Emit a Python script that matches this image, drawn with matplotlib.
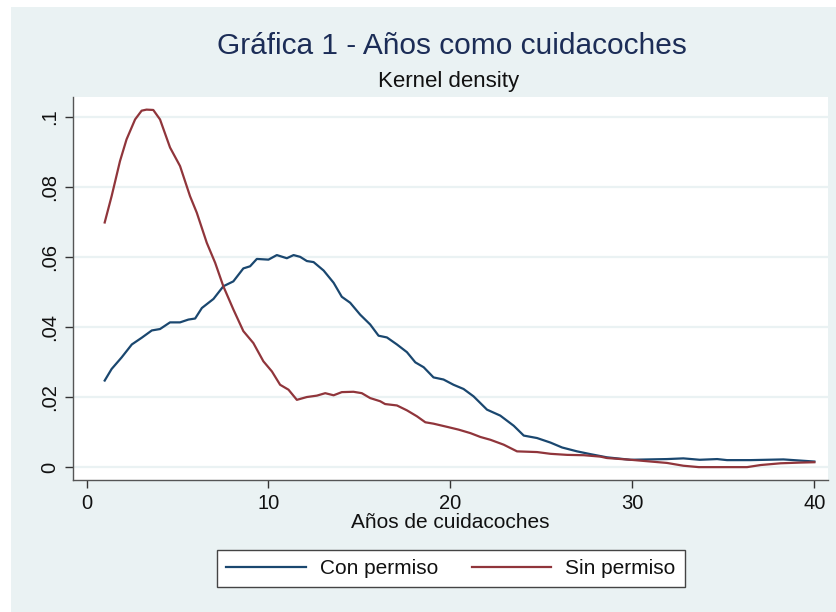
import matplotlib
matplotlib.use("Agg")
import matplotlib.pyplot as plt
from matplotlib.patches import Rectangle

plt.rcParams['font.family'] = ['Liberation Sans', 'DejaVu Sans']

title = "Gráfica 1 - Años como cuidacoches"
subtitle = "Kernel density"
xlabel = "Años de cuidacoches"
legend_labels = ["Con permiso", "Sin permiso"]

x_ticks = [0, 10, 20, 30, 40]
y_ticks = [0, 0.02, 0.04, 0.06, 0.08, 0.1]
y_ticklabels = ["0", ".02", ".04", ".06", ".08", ".1"]

con_x = [1.0, 1.38, 1.93, 2.49, 3.03, 3.59, 4.04, 4.59, 5.14, 5.6, 5.97, 6.34,
         6.98, 7.52, 8.07, 8.62, 8.99, 9.36, 10.0, 10.46, 11.01, 11.38, 11.74,
         12.11, 12.48, 13.03, 13.58, 14.03, 14.49, 15.04, 15.59, 16.05, 16.51,
         17.06, 17.61, 18.07, 18.53, 19.07, 19.62, 20.17, 20.72, 21.27, 22.01,
         22.74, 23.48, 24.03, 24.76, 25.5, 26.14, 26.96, 27.7, 28.6, 29.9, 31.9,
         32.8, 33.7, 34.66, 35.2, 36.5, 38.3, 40.0]
con_y = [0.0248, 0.0281, 0.0314, 0.0351, 0.0370, 0.0391, 0.0395, 0.0414, 0.0414,
         0.0422, 0.0425, 0.0455, 0.0481, 0.0517, 0.0531, 0.0568, 0.0574, 0.0595,
         0.0593, 0.0606, 0.0597, 0.0606, 0.0601, 0.0589, 0.0586, 0.0562, 0.0527,
         0.0487, 0.0470, 0.0436, 0.0408, 0.0376, 0.0371, 0.0351, 0.0329, 0.0300,
         0.0286, 0.0257, 0.0251, 0.0236, 0.0224, 0.0203, 0.0165, 0.0148, 0.0119,
         0.0091, 0.0084, 0.0071, 0.0057, 0.0046, 0.0038, 0.0029, 0.0022, 0.0024,
         0.0026, 0.0022, 0.0024, 0.0021, 0.0021, 0.0023, 0.0017]

sin_x = [1.0, 1.38, 1.84, 2.2, 2.67, 3.03, 3.3, 3.67, 4.04, 4.59, 5.14, 5.69,
         6.06, 6.61, 7.07, 7.52, 8.07, 8.62, 9.17, 9.72, 10.19, 10.64, 11.1,
         11.56, 12.11, 12.66, 13.12, 13.58, 14.03, 14.67, 15.13, 15.59, 16.14,
         16.41, 17.06, 17.61, 18.16, 18.62, 19.07, 19.81, 20.45, 21.1, 21.65,
         22.2, 22.93, 23.66, 24.76, 25.5, 26.41, 27.33, 28.24, 28.6, 29.9, 31.0,
         31.9, 32.8, 33.65, 34.66, 36.3, 37.05, 38.15, 39.25, 40.0]
sin_y = [0.0699, 0.0774, 0.0874, 0.0936, 0.0993, 0.1018, 0.1021, 0.1020, 0.0993,
         0.0913, 0.0860, 0.0774, 0.0727, 0.0641, 0.0584, 0.0517, 0.0451, 0.0389,
         0.0355, 0.0303, 0.0274, 0.0236, 0.0222, 0.0193, 0.0201, 0.0205, 0.0212,
         0.0206, 0.0215, 0.0216, 0.0212, 0.0198, 0.0189, 0.0181, 0.0177, 0.0163,
         0.0146, 0.0129, 0.0125, 0.0116, 0.0108, 0.0098, 0.0087, 0.0079, 0.0065,
         0.0046, 0.0044, 0.0039, 0.0036, 0.0035, 0.0031, 0.0027, 0.0022, 0.0017,
         0.0013, 0.0005, 0.0001, 0.0001, 0.0001, 0.0007, 0.0012, 0.0014, 0.0015]

BG = "#EAF2F3"
NAVY = "#1A476F"
MAROON = "#90353B"
W, H = 836, 612

fig = plt.figure(figsize=(W / 100, H / 100), dpi=100, facecolor="white")
fig.patches.append(Rectangle((11 / W, 0), 1 - 11 / W, 1 - 7 / H,
                             transform=fig.transFigure, facecolor=BG,
                             edgecolor="none", zorder=-10))

ax = fig.add_axes([73 / W, 1 - 480 / H, (828 - 73) / W, (480 - 97) / H])
ax.set_facecolor("white")

ax.plot(con_x, con_y, color=NAVY, lw=1.6, label=legend_labels[0], zorder=3)
ax.plot(sin_x, sin_y, color=MAROON, lw=1.6, label=legend_labels[1], zorder=3)

ax.set_xlim(-0.742, 40.75)
ax.set_ylim(-0.00357, 0.1057)
ax.set_xticks(x_ticks)
ax.set_yticks(y_ticks)
ax.set_yticklabels(y_ticklabels, rotation=90, va="center")
ax.grid(axis="y", color=BG, lw=1.6)
ax.set_axisbelow(True)

for s in ["top", "right"]:
    ax.spines[s].set_visible(False)
for s in ["left", "bottom"]:
    ax.spines[s].set_color("#555555")
    ax.spines[s].set_linewidth(1.0)
ax.tick_params(axis="both", direction="out", length=6, width=1.0,
               color="#333333", labelsize=14.5, labelcolor="#111111")
ax.tick_params(axis="x", pad=4)
ax.tick_params(axis="y", pad=4)

ax.set_xlabel(xlabel, fontsize=15, color="#111111", labelpad=0)

fig.text(452 / W, 1 - 46 / H, title, ha="center", va="center",
         fontsize=21.5, color="#1C2D57")
fig.text(449 / W, 1 - 82 / H, subtitle, ha="center", va="center",
         fontsize=16, color="#111111")

leg = fig.legend(loc="center", bbox_to_anchor=(451 / W, 1 - 568.5 / H),
                 ncol=2, fontsize=15, frameon=True, fancybox=False,
                 edgecolor="#444444", facecolor="white", framealpha=1,
                 handlelength=3.8, handletextpad=0.7, columnspacing=1.6,
                 borderpad=0.45)
leg.get_frame().set_linewidth(1.0)
for t in leg.get_texts():
    t.set_color("#111111")

fig.savefig("out.png", dpi=100, facecolor="white")
